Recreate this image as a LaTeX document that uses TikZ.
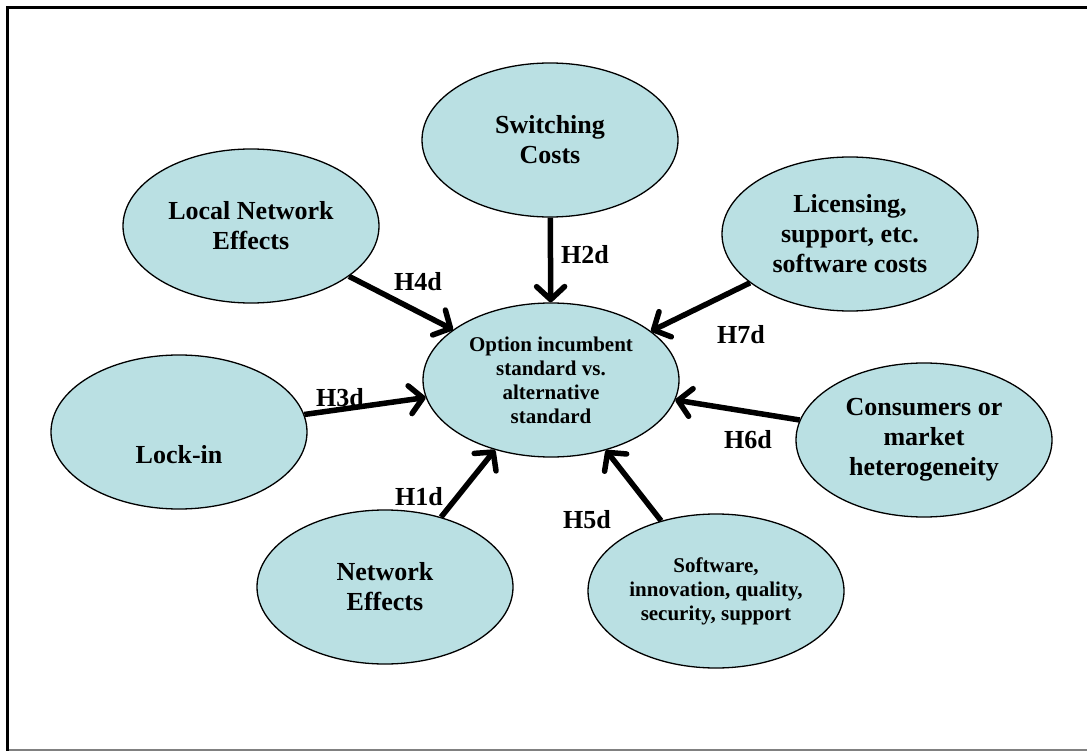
\documentclass[tikz,border=0pt]{standalone}
\usepackage{fontspec}
\setmainfont{Liberation Serif}
\usetikzlibrary{shapes.geometric,arrows.meta}
\definecolor{fillc}{RGB}{186,224,227}
\begin{document}
\begin{tikzpicture}[x=1pt,y=-1pt,
 oval/.style={ellipse,draw=black,line width=1.3pt,fill=fillc,minimum width=256pt,minimum height=154pt,inner sep=0pt,align=center,font=\fontsize{26}{30}\selectfont\bfseries},
 small/.style={font=\fontsize{21}{24}\selectfont\bfseries},
 lab/.style={font=\fontsize{26}{30}\selectfont\bfseries,inner sep=0pt},
 arr/.style={line width=5.5pt,-{Straight Barb[length=13pt,width=28pt,round]}}]
\useasboundingbox (0,0) rectangle (1087,751);
\draw[line width=3.5pt] (7.5,751) -- (7.5,7.5) -- (1087,7.5);
\draw[gray,line width=2pt] (9,750) -- (1087,750);

\node[oval] (sw) at (550,140) {Switching\\Costs};
\node[oval] (lne) at (251,226) {Local Network\\Effects};
\node[oval] (lic) at (850,234) {Licensing,\\support, etc.\\software costs};
\node[oval,small] (opt) at (551,380) {Option incumbent\\standard vs.\\alternative\\standard};
\node[oval,label={[yshift=-23pt,font=\fontsize{26}{30}\selectfont\bfseries]center:Lock-in}] (lock) at (179,432) {};
\node[oval] (cons) at (924,440) {Consumers or\\market\\heterogeneity};
\node[oval] (net) at (385,587) {Network\\Effects};
\node[oval,small] (soft) at (716,591) {Software,\\innovation, quality,\\security, support};

\draw[arr] (lne) -- (opt);
\draw[arr] (sw) -- (opt);
\draw[arr] (lic) -- (opt);
\draw[arr] (lock) -- (opt);
\draw[arr] (cons) -- (opt);
\draw[arr] (net) -- (opt);
\draw[arr] (soft) -- (opt);

\node[lab] (h4) at (418,282) {H4d};
\node[lab] (h2) at (585,255) {H2d};
\node[lab] (h7) at (741,335) {H7d};
\node[lab] (h3) at (340,398) {H3d};
\node[lab] (h6) at (748,440) {H6d};
\node[lab] (h1) at (419,497) {H1d};
\node[lab] (h5) at (587,520) {H5d};
\end{tikzpicture}
\end{document}
